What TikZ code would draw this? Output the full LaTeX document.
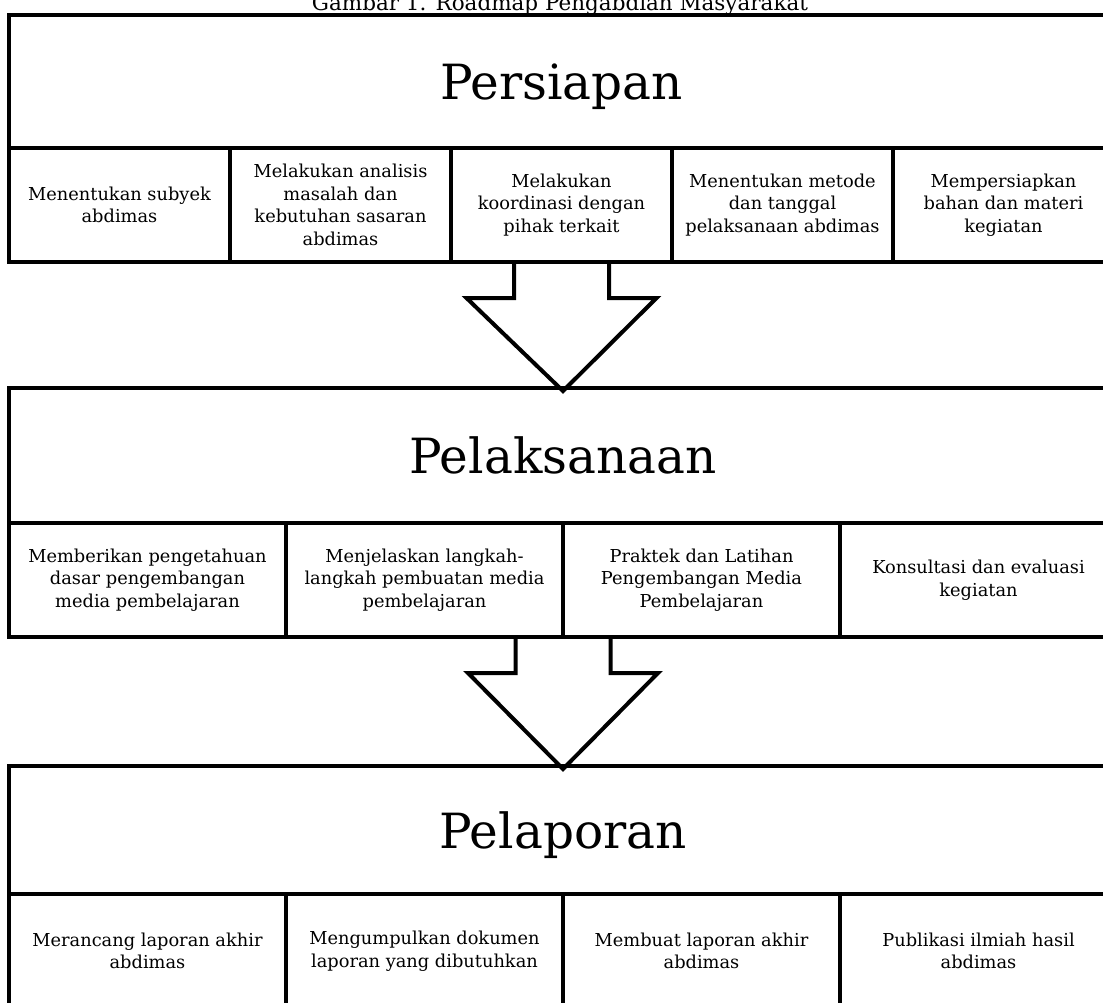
\documentclass[tikz,border=0pt]{standalone}
\usepackage{fontspec}
\setmainfont{DejaVu Serif}
\usetikzlibrary{calc}
\begin{document}
\begin{tikzpicture}[x=1pt,y=-1pt,
  box/.style={draw, line width=4pt, inner sep=0pt, outer sep=0pt, align=center},
  head/.style={box, text depth=0pt, font=\fontsize{48.5}{52}\selectfont},
  cellA/.style={box, minimum width=221pt, minimum height=114pt, font=\fontsize{17.8}{22.5}\selectfont},
  cellB/.style={box, minimum width=277pt, minimum height=114pt, font=\fontsize{17.8}{22.5}\selectfont},
  flow/.style={draw, line width=4pt, line join=miter, miter limit=10}
]
\useasboundingbox (0,0) rectangle (1103,1003);
\clip (0,0) rectangle (1103,1003);

\node[font=\fontsize{21.5}{24}\selectfont, anchor=base] (title) at (560,10.5) {Gambar 1. Roadmap Pengabdian Masyarakat};

% Stage 1
\node[head, minimum width=1105pt, minimum height=133pt] (h1) at (561.5,81.5) {Persiapan};
\node[cellA] (c11) at (119.5,205) {Menentukan subyek\\abdimas};
\node[cellA] (c12) at (340.5,205) {Melakukan analisis\\masalah dan\\kebutuhan sasaran\\abdimas};
\node[cellA] (c13) at (561.5,205) {Melakukan\\koordinasi dengan\\pihak terkait};
\node[cellA] (c14) at (782.5,205) {Menentukan metode\\dan tanggal\\pelaksanaan abdimas};
\node[cellA] (c15) at (1003.5,205) {Mempersiapkan\\bahan dan materi\\kegiatan};

% Stage 2
\node[head, minimum width=1108pt, minimum height=135pt] (h2) at (563,455.5) {Pelaksanaan};
\node[cellB] (c21) at (147.5,580) {Memberikan pengetahuan\\dasar pengembangan\\media pembelajaran};
\node[cellB] (c22) at (424.5,580) {Menjelaskan langkah-\\langkah pembuatan media\\pembelajaran};
\node[cellB] (c23) at (701.5,580) {Praktek dan Latihan\\Pengembangan Media\\Pembelajaran};
\node[cellB] (c24) at (978.5,580) {Konsultasi dan evaluasi\\kegiatan};

% Stage 3
\node[head, minimum width=1108pt, minimum height=128pt] (h3) at (563,830) {Pelaporan};
\node[cellB] (c31) at (147.5,951) {Merancang laporan akhir\\abdimas};
\node[cellB] (c32) at (424.5,951) {Mengumpulkan dokumen\\laporan yang dibutuhkan};
\node[cellB] (c33) at (701.5,951) {Membuat laporan akhir\\abdimas};
\node[cellB] (c34) at (978.5,951) {Publikasi ilmiah hasil\\abdimas};

% Arrows
\coordinate (a1) at (h1.center |- c13.south);
\draw[flow] ($(a1)+(-47.5,0)$) -- ++(0,36) -- ++(-47.5,0) -- ($(h2.north)+(0,3)$)
  -- ($(a1)+(95,36)$) -- ++(-47.5,0) -- ($(a1)+(47.5,0)$);
\coordinate (a2) at (h2.center |- c21.south);
\draw[flow] ($(a2)+(-47.5,0)$) -- ++(0,36) -- ++(-47.5,0) -- ($(h3.north)+(0,3)$)
  -- ($(a2)+(95,36)$) -- ++(-47.5,0) -- ($(a2)+(47.5,0)$);
\end{tikzpicture}
\end{document}
